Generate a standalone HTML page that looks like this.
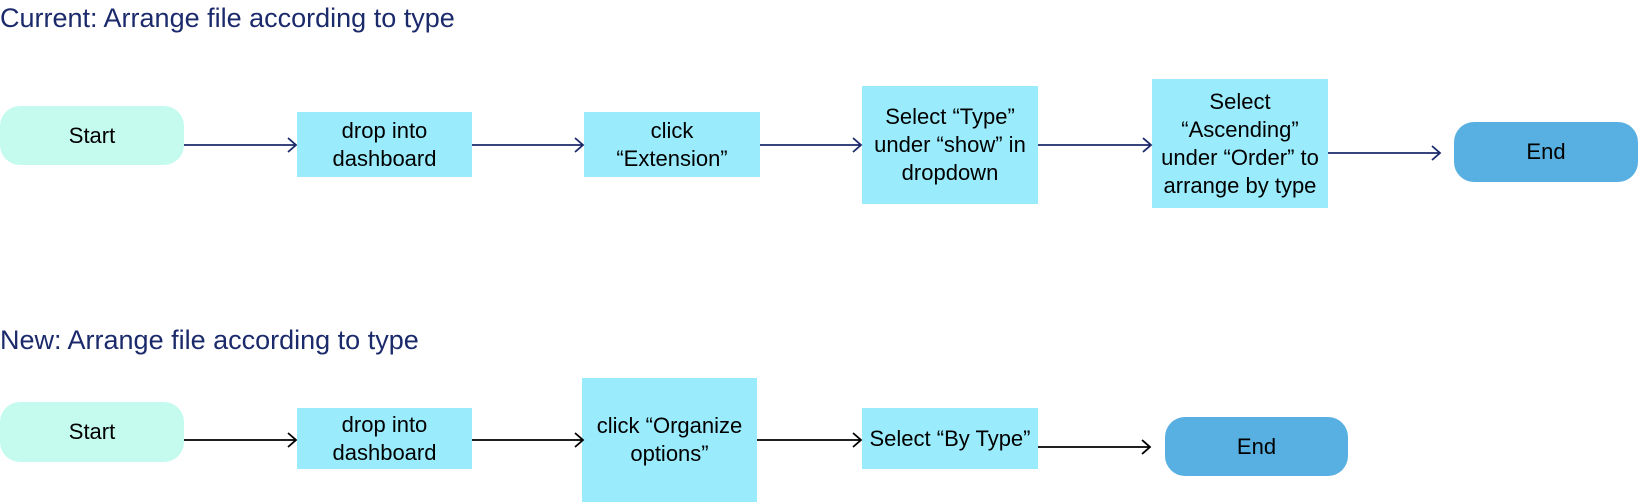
<!DOCTYPE html>
<html><head><meta charset="utf-8"><style>
body{margin:0;width:1638px;height:502px;background:#fff;position:relative;overflow:hidden;font-family:"Liberation Sans",sans-serif}
.t{position:absolute;left:0;color:#1b2a6b;font-size:27px;white-space:nowrap}
.n{position:absolute;display:flex;align-items:center;justify-content:center;text-align:center;font-size:22px;line-height:28px;color:#000}
.b{background:#9aecfd}
.s{background:#c5fbef;border-radius:20px}
.e{background:#57b0e1;border-radius:20px}
svg{position:absolute;left:0;top:0}
</style></head><body>
<div class="t" style="top:3px">Current: Arrange file according to type</div>
<div class="t" style="top:325px">New: Arrange file according to type</div>

<div class="n s" style="left:0;top:106px;width:184px;height:59px">Start</div>
<div class="n b" style="left:297px;top:112px;width:175px;height:65px">drop into<br>dashboard</div>
<div class="n b" style="left:584px;top:112px;width:176px;height:65px">click<br>“Extension”</div>
<div class="n b" style="left:862px;top:86px;width:176px;height:118px">Select “Type”<br>under “show” in<br>dropdown</div>
<div class="n b" style="left:1152px;top:79px;width:176px;height:129px">Select<br>“Ascending”<br>under “Order” to<br>arrange by type</div>
<div class="n e" style="left:1454px;top:122px;width:184px;height:60px">End</div>

<div class="n s" style="left:0;top:402px;width:184px;height:60px">Start</div>
<div class="n b" style="left:297px;top:408px;width:175px;height:61px">drop into<br>dashboard</div>
<div class="n b" style="left:582px;top:378px;width:175px;height:124px">click “Organize<br>options”</div>
<div class="n b" style="left:862px;top:408px;width:176px;height:61px">Select “By Type”</div>
<div class="n e" style="left:1165px;top:417px;width:183px;height:59px">End</div>

<svg width="1638" height="502">
<g stroke="#1b2a6b" stroke-width="1.8" fill="none">
<path d="M184 145H296M288 138L296 145L288 152"/>
<path d="M472 145H583M575 138L583 145L575 152"/>
<path d="M760 145H861M853 138L861 145L853 152"/>
<path d="M1038 145H1151M1143 138L1151 145L1143 152"/>
<path d="M1328 153H1440M1432 146L1440 153L1432 160"/>
</g>
<g stroke="#000" stroke-width="1.8" fill="none">
<path d="M184 440H296M288 433L296 440L288 447"/>
<path d="M472 440H583M575 433L583 440L575 447"/>
<path d="M757 440H861M853 433L861 440L853 447"/>
<path d="M1038 447H1150M1142 440L1150 447L1142 454"/>
</g>
</svg>
</body></html>
